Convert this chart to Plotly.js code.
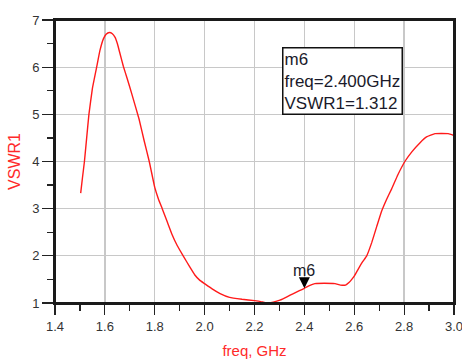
<!DOCTYPE html>
<html>
<head>
<meta charset="utf-8">
<script src="https://cdn.plot.ly/plotly-3.0.1.min.js"></script>
<style>html,body{margin:0;padding:0;background:#fff;}#chart{width:462px;height:360px;}</style>
</head>
<body>
<div id="chart"></div>
<script>
// Frequency (GHz) and VSWR1 values
const freq = [1.503, 1.510, 1.518, 1.527, 1.536, 1.550, 1.567, 1.580, 1.594, 1.605, 1.618, 1.630, 1.641, 1.650, 1.660, 1.674, 1.690, 1.707, 1.737, 1.757, 1.778, 1.800, 1.815, 1.830, 1.850, 1.868, 1.890, 1.914, 1.941, 1.960, 1.981, 2.000, 2.030, 2.062, 2.100, 2.150, 2.200, 2.225, 2.249, 2.275, 2.302, 2.330, 2.356, 2.380, 2.400, 2.420, 2.442, 2.480, 2.523, 2.545, 2.565, 2.580, 2.590, 2.600, 2.616, 2.633, 2.650, 2.670, 2.690, 2.710, 2.730, 2.750, 2.775, 2.803, 2.830, 2.864, 2.890, 2.924, 2.977, 3.000];
const vswr = [3.33, 3.65, 4.00, 4.50, 5.00, 5.55, 6.00, 6.35, 6.60, 6.70, 6.735, 6.71, 6.63, 6.50, 6.30, 6.02, 5.75, 5.45, 4.90, 4.45, 4.00, 3.45, 3.20, 3.00, 2.72, 2.47, 2.22, 2.00, 1.76, 1.60, 1.48, 1.41, 1.30, 1.20, 1.12, 1.08, 1.05, 1.03, 1.00, 1.02, 1.06, 1.13, 1.20, 1.26, 1.312, 1.37, 1.41, 1.42, 1.41, 1.38, 1.38, 1.44, 1.50, 1.57, 1.72, 1.87, 2.00, 2.28, 2.62, 2.95, 3.20, 3.42, 3.72, 4.00, 4.20, 4.40, 4.52, 4.59, 4.59, 4.55];
const markerName = 'm6';
const markerFreq = 2.400;
const markerVswr = 1.312;
const xTicks = [1.4, 1.6, 1.8, 2.0, 2.2, 2.4, 2.6, 2.8, 3.0];
const yTicks = [1, 2, 3, 4, 5, 6, 7];

const FONT = 'Arial, "Liberation Sans", sans-serif';
const data = [{
  x: freq, y: vswr, type: 'scatter', mode: 'lines',
  line: {color: '#ff1a1a', width: 1.4, shape: 'spline', smoothing: 0.3},
  hoverinfo: 'skip'
}];

const layout = {
  width: 462, height: 360,
  margin: {l: 55, r: 8, t: 20, b: 57},
  paper_bgcolor: '#ffffff', plot_bgcolor: '#ffffff',
  showlegend: false,
  font: {family: FONT, color: '#2a2a2a'},
  xaxis: {
    range: [1.4, 3.0], tickvals: xTicks, ticktext: xTicks.map(v => v.toFixed(1)),
    ticks: 'outside', ticklen: 10, tickwidth: 1.2, tickcolor: '#222',
    minor: {dtick: 0.1, tick0: 1.4, ticks: 'outside', ticklen: 6, tickwidth: 1.2, tickcolor: '#222', showgrid: false},
    showgrid: true, gridcolor: '#c8c8c8', gridwidth: 1.3,
    showline: true, linecolor: '#1a1a1a', linewidth: 2, mirror: true,
    zeroline: false, ticklabeloverflow: 'allow',
    tickfont: {family: FONT, size: 13, color: '#333'},
    title: {text: 'freq, GHz', font: {family: FONT, size: 15, color: '#ff2a2a'}, standoff: 13},
    automargin: false
  },
  yaxis: {
    range: [1, 7], tickvals: yTicks,
    ticks: 'outside', ticklen: 11, tickwidth: 1.2, tickcolor: '#222',
    minor: {dtick: 0.5, tick0: 1, ticks: 'outside', ticklen: 6, tickwidth: 1.2, tickcolor: '#222', showgrid: false},
    showgrid: true, gridcolor: '#c8c8c8', gridwidth: 1.3,
    showline: true, linecolor: '#1a1a1a', linewidth: 2, mirror: true,
    zeroline: false, ticklabeloverflow: 'allow',
    tickfont: {family: FONT, size: 13, color: '#333'},
    title: {text: 'VSWR1', font: {family: FONT, size: 16, color: '#ff2a2a'}, standoff: 8},
    automargin: false
  },
  shapes: [
    {type: 'rect', xref: 'paper', yref: 'paper', x0: 0, x1: 1, y0: 0, y1: 1,
     line: {color: '#1a1a1a', width: 2}, fillcolor: 'rgba(0,0,0,0)', layer: 'above'}
  ],
  annotations: [
    {
      x: markerFreq, y: markerVswr, xref: 'x', yref: 'y',
      text: markerName, showarrow: true, arrowhead: 2, arrowsize: 1.0, arrowwidth: 2.2,
      arrowcolor: '#000', ax: 0, ay: -18, standoff: 0, startstandoff: 0,
      font: {family: FONT, size: 16, color: '#1a1a2a'}
    },
    {
      xref: 'paper', yref: 'paper', x: 0.569, y: 0.906, xanchor: 'left', yanchor: 'top',
      text: markerName + '<br>freq=' + markerFreq.toFixed(3) + 'GHz<br>VSWR1=' + markerVswr.toFixed(3),
      align: 'left', showarrow: false,
      font: {family: FONT, size: 17, color: '#1a1a2a'},
      bordercolor: '#111', borderwidth: 1.5, borderpad: 1, bgcolor: '#ffffff'
    }
  ]
};

Plotly.newPlot('chart', data, layout, {displayModeBar: false, staticPlot: true});
</script>
</body>
</html>
